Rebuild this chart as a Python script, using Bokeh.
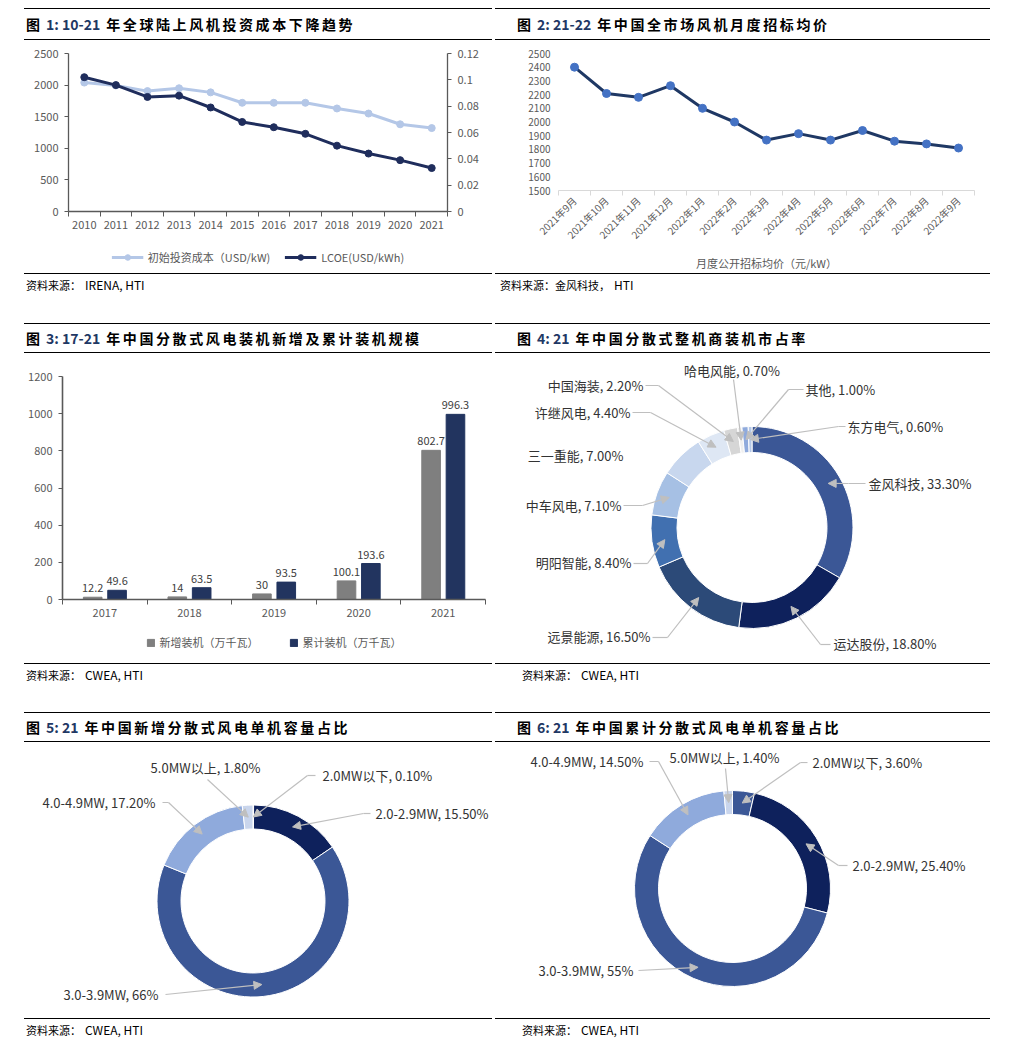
import math
from bokeh.plotting import figure
from bokeh.models import (Range1d, LinearAxis, FixedTicker, PrintfTickFormatter, Legend, LegendItem,
                          ColumnDataSource, LabelSet, Arrow, NormalHead, Div, Spacer)
from bokeh.layouts import row, column
from bokeh.embed import file_html
from bokeh.resources import INLINE
from bokeh.core.properties import value
from bokeh.transform import dodge

FONT = "Noto Sans CJK SC"
AX = "#595959"
ARROW = "#BFBFBF"
LBL = "#333333"
NAN = float("nan")

# ---------------- data ----------------
# Fig 1
years1 = [2010, 2011, 2012, 2013, 2014, 2015, 2016, 2017, 2018, 2019, 2020, 2021]
install_cost = [2040, 1995, 1905, 1950, 1885, 1720, 1720, 1720, 1630, 1550, 1380, 1320]
lcoe = [0.102, 0.096, 0.087, 0.088, 0.079, 0.068, 0.064, 0.059, 0.050, 0.044, 0.039, 0.033]
lcoe_ticks = [0, 0.02, 0.04, 0.06, 0.08, 0.1, 0.12]
cost_ticks = [0, 500, 1000, 1500, 2000, 2500]
series1 = ["初始投资成本（USD/kW)", "LCOE(USD/kWh)"]

# Fig 2
months2 = ["2021年9月", "2021年10月", "2021年11月", "2021年12月", "2022年1月", "2022年2月",
           "2022年3月", "2022年4月", "2022年5月", "2022年6月", "2022年7月", "2022年8月", "2022年9月"]
price2 = [2400, 2208, 2180, 2265, 2100, 2000, 1868, 1915, 1868, 1938, 1860, 1840, 1810]
price_ticks = [1500, 1600, 1700, 1800, 1900, 2000, 2100, 2200, 2300, 2400, 2500]

# Fig 3
years3 = [2017, 2018, 2019, 2020, 2021]
new_cap = [12.2, 14, 30, 100.1, 802.7]
cum_cap = [49.6, 63.5, 93.5, 193.6, 996.3]
cap_ticks = [0, 200, 400, 600, 800, 1000, 1200]
series3 = ["新增装机（万千瓦）", "累计装机（万千瓦）"]

# Fig 4
makers4 = ["金风科技", "运达股份", "远景能源", "明阳智能", "中车风电", "三一重能",
           "许继风电", "中国海装", "哈电风能", "其他", "东方电气"]
share4 = [33.3, 18.8, 16.5, 8.4, 7.1, 7.0, 4.4, 2.2, 0.7, 1.0, 0.6]
share4_text = ["33.30%", "18.80%", "16.50%", "8.40%", "7.10%", "7.00%", "4.40%",
               "2.20%", "0.70%", "1.00%", "0.60%"]
colors4 = ["#3B5796", "#0E215C", "#2C4A78", "#4170B0", "#A6C0E4", "#C8D7EE",
           "#DEE7F4", "#D6D6D6", "#EFEFEF", "#8FAADC", "#B4C7E7"]

# Fig 5 / Fig 6
classes = ["2.0MW以下", "2.0-2.9MW", "3.0-3.9MW", "4.0-4.9MW", "5.0MW以上"]
share5 = [0.1, 15.5, 66, 17.2, 1.8]
share5_text = ["0.10%", "15.50%", "66%", "17.20%", "1.80%"]
share6 = [3.6, 25.4, 55, 14.5, 1.4]
share6_text = ["3.60%", "25.40%", "55%", "14.50%", "1.40%"]
colors56 = ["#3B5796", "#0E215C", "#3B5796", "#8FAADC", "#C9D5EC"]

# callout layout (label anchor x, y, align, leader path) in px relative to donut centre
callouts4 = [
    (116.5, 44, "left", [(113.5, 44), (96.5, 44)]),
    (81.5, -116, "left", [(78.5, -117), (68.5, -117)]),
    (-101.5, -109, "right", [(-99.5, -110), (-84.5, -110)]),
    (-120.5, -35, "right", [(-118.5, -36), (-104.5, -36)]),
    (-130.5, 22, "right", [(-128.5, 22), (-109.5, 22)]),
    (-128.5, 72, "right", None),
    (-121.5, 115, "right", [(-119.5, 115), (-101.5, 115)]),
    (-108.5, 142, "right", [(-106.5, 142), (-93.5, 142)]),
    (-20, 157, "center", [(-18.5, 148)]),
    (53.5, 138, "left", [(51.5, 138), (36.5, 138)]),
    (95.5, 101, "left", [(93.5, 101), (86.5, 101)]),
]
callouts5 = [
    (69.5, 125.5, "left", [(62.5, 125.5), (54.5, 125.5)]),
    (122.5, 87.5, "left", [(117.5, 87.5), (110.5, 87.5)]),
    (-94.5, -93.5, "right", [(-87.5, -93.5)]),
    (-97.5, 98.5, "right", [(-90.5, 98.5), (-84.5, 98.5)]),
    (-47.5, 133.5, "center", [(-45.5, 121.5)]),
]
callouts6 = [
    (80, 126, "left", [(75, 126), (68, 126)]),
    (120, 23, "left", [(115, 23), (106, 23)]),
    (-99, -82, "right", [(-94, -82)]),
    (-89, 127, "right", [(-83, 127), (-74, 127)]),
    (-8, 131, "center", [(-7, 120)]),
]


# ---------------- helpers ----------------
def title_div(num, rest, width, height, pad):
    html = (f'<div style="box-sizing:border-box;width:{width}px;height:{height}px;'
            f'border-top:1.5px solid #000;border-bottom:1.5px solid #000;padding-left:{pad}px;'
            f'display:flex;align-items:center;white-space:nowrap;font-family:\'{FONT}\';'
            f'font-weight:bold;font-size:14px;color:#000;">'
            f'<span style="letter-spacing:3px">图</span>'
            f'<span style="color:#1F3864;margin-left:3px">{num}</span>'
            f'<span style="letter-spacing:2.6px;margin-left:6px">{rest}</span></div>')
    return Div(text=html, width=width, height=height, margin=0)


def src_div(cn, en, width, height, pad):
    html = (f'<div style="box-sizing:border-box;width:{width}px;height:{height}px;'
            f'border-top:1.5px solid #000;padding:2px 0 0 {pad}px;white-space:nowrap;'
            f'font-family:\'{FONT}\';color:#000;line-height:17px;">'
            f'<span style="font-size:11px">{cn}</span>'
            f'<span style="font-size:12px;margin-left:4px">{en}</span></div>')
    return Div(text=html, width=width, height=height, margin=0)


def style_axis(ax, size="11px"):
    ax.axis_line_color = AX
    ax.axis_line_width = 1.3
    ax.major_tick_line_color = AX
    ax.minor_tick_line_color = None
    ax.major_tick_in = 0
    ax.major_tick_out = 4
    ax.major_label_text_color = AX
    ax.major_label_text_font = FONT
    ax.major_label_text_font_size = size
    ax.major_label_standoff = 6


def blank_fig(width, height, xr, yr, **borders):
    p = figure(width=width, height=height, x_range=xr, y_range=yr, x_axis_type=None,
               y_axis_type=None, output_backend="svg", toolbar_location=None, **borders)
    p.grid.visible = False
    p.outline_line_color = None
    return p


def donut_fig(width, height, cx, cy):
    return blank_fig(width, height, Range1d(-cx, width - cx), Range1d(-(height - cy), cy),
                     min_border=0)


def legend_fig(width, height, left, right, top, bottom):
    return blank_fig(width, height, Range1d(0, 1), Range1d(0, 1), min_border_left=left,
                     min_border_right=right, min_border_top=top, min_border_bottom=bottom)


def donut(p, names, shares, texts, colors, r_in, r_out, specs):
    total = sum(shares)
    cum = 0.0
    starts, ends, mids = [], [], []
    for s in shares:
        a0 = cum / total * 2 * math.pi
        cum += s
        a1 = cum / total * 2 * math.pi
        starts.append(math.pi / 2 - a0)
        ends.append(math.pi / 2 - a1)
        mids.append((a0 + a1) / 2)
    src = ColumnDataSource(dict(start=starts, end=ends, color=colors))
    p.annular_wedge(x=0, y=0, inner_radius=r_in, outer_radius=r_out, start_angle="start",
                    end_angle="end", direction="clock", fill_color="color", line_color="white",
                    line_width=1, source=src)
    r_mid = (r_in + r_out) / 2
    for i, (tx, ty, align, path) in enumerate(specs):
        p.text(x=[tx], y=[ty], text=[f"{names[i]}, {texts[i]}"], text_align=align,
               text_baseline="middle", text_font=value(FONT), text_font_size="13px",
               text_color=LBL)
        if path:
            if len(path) > 1:
                p.line([q[0] for q in path], [q[1] for q in path], line_color=ARROW, line_width=1.2)
            sx, sy = path[-1]
            p.add_layout(Arrow(end=NormalHead(size=8, fill_color=ARROW, line_color=ARROW),
                               x_start=sx, y_start=sy,
                               x_end=r_mid * math.sin(mids[i]), y_end=r_mid * math.cos(mids[i]),
                               line_color=ARROW, line_width=1.2))


def legend_style(**kw):
    base = dict(orientation="horizontal", location="center", label_text_font=FONT,
                label_text_font_size="11px", label_text_color=AX, border_line_color=None,
                background_fill_alpha=0, padding=2, margin=0, label_height=14)
    base.update(kw)
    return base


LW, RW = 468, 495
LIGHT, DARK = "#B4C7E7", "#1F2D5C"
GRAYBAR, NAVYBAR = "#7F7F7F", "#22345F"

# ---------------- Fig 1 ----------------
p1 = figure(width=LW, height=205, x_range=Range1d(years1[0] - 0.5, years1[-1] + 0.5),
            y_range=Range1d(0, 2500), output_backend="svg", toolbar_location=None,
            min_border_left=44, min_border_right=45, min_border_top=13, min_border_bottom=34)
p1.extra_y_ranges = {"lcoe": Range1d(0, 0.12)}
p1.grid.visible = False
p1.outline_line_color = None
p1.line(years1, install_cost, line_color=LIGHT, line_width=3)
p1.scatter(years1, install_cost, size=7, fill_color=LIGHT, line_color=LIGHT)
p1.line(years1, lcoe, line_color=DARK, line_width=3, y_range_name="lcoe")
p1.scatter(years1, lcoe, size=7, fill_color=DARK, line_color=DARK, y_range_name="lcoe")
style_axis(p1.yaxis[0])
p1.yaxis[0].ticker = FixedTicker(ticks=cost_ticks)
rax = LinearAxis(y_range_name="lcoe", ticker=FixedTicker(ticks=lcoe_ticks),
                 formatter=PrintfTickFormatter(format="%g"))
style_axis(rax)
p1.add_layout(rax, "right")
xa = p1.xaxis[0]
style_axis(xa)
xa.ticker = FixedTicker(ticks=years1, minor_ticks=[y - 0.5 for y in years1] + [years1[-1] + 0.5])
xa.major_tick_line_color = None
xa.major_tick_out = 5
xa.minor_tick_line_color = AX
xa.minor_tick_in = 0
xa.minor_tick_out = 5
xa.major_label_standoff = 4

# legend strip for Fig 1 (series keys only: NaN placeholders, nothing is plotted)
lg1 = legend_fig(LW, 28, 44, 45, 0, 4)
kl1 = lg1.line(x=[NAN], y=[NAN], line_color=LIGHT, line_width=3)
ks1 = lg1.scatter(x=[NAN], y=[NAN], size=7, fill_color=LIGHT, line_color=LIGHT)
kl2 = lg1.line(x=[NAN], y=[NAN], line_color=DARK, line_width=3)
ks2 = lg1.scatter(x=[NAN], y=[NAN], size=7, fill_color=DARK, line_color=DARK)
lg1.add_layout(Legend(items=[LegendItem(label=series1[0], renderers=[kl1, ks1]),
                             LegendItem(label=series1[1], renderers=[kl2, ks2])],
                      **legend_style(glyph_width=32, glyph_height=14, spacing=14)), "center")

# ---------------- Fig 2 ----------------
x2 = list(range(len(months2)))
p2 = figure(width=RW, height=233, x_range=Range1d(-0.5, len(months2) - 0.5),
            y_range=Range1d(1500, 2500), output_backend="svg", toolbar_location=None,
            min_border_left=63, min_border_right=16, min_border_top=13, min_border_bottom=80)
p2.grid.visible = False
p2.outline_line_color = None
p2.line(x2, price2, line_color="#1F3864", line_width=3)
p2.scatter(x2, price2, size=8, fill_color="#4472C4", line_color="#4472C4")
ya2 = p2.yaxis[0]
style_axis(ya2, "10px")
ya2.ticker = FixedTicker(ticks=price_ticks)
ya2.axis_line_color = None
ya2.major_tick_line_color = None
ya2.major_tick_out = 0
ya2.major_label_standoff = 8
xa2 = p2.xaxis[0]
style_axis(xa2, "10px")
xa2.axis_line_color = "#D9D9D9"
xa2.axis_line_width = 1
xa2.ticker = FixedTicker(ticks=x2, minor_ticks=[i - 0.5 for i in range(len(months2) + 1)])
xa2.major_label_overrides = {i: m for i, m in enumerate(months2)}
xa2.major_label_orientation = math.pi / 4
xa2.major_tick_line_color = None
xa2.major_tick_out = 4
xa2.minor_tick_line_color = "#D9D9D9"
xa2.minor_tick_in = 0
xa2.minor_tick_out = 5
xa2.major_label_standoff = 3
xa2.axis_label = "月度公开招标均价（元/kW）"
xa2.axis_label_text_font = FONT
xa2.axis_label_text_font_style = "normal"
xa2.axis_label_text_font_size = "11px"
xa2.axis_label_text_color = AX
xa2.axis_label_standoff = 5

# ---------------- Fig 3 ----------------
src3 = ColumnDataSource(dict(x=years3, new=new_cap, cum=cum_cap,
                             new_t=[f"{v:g}" for v in new_cap], cum_t=[f"{v:g}" for v in cum_cap]))
p3 = figure(width=LW, height=275, x_range=Range1d(years3[0] - 0.5, years3[-1] + 0.5),
            y_range=Range1d(0, 1200), output_backend="svg", toolbar_location=None,
            min_border_left=38, min_border_right=7, min_border_top=23, min_border_bottom=29)
p3.grid.visible = False
p3.outline_line_color = None
p3.vbar(x=dodge("x", -0.143), top="new", width=0.22, fill_color=GRAYBAR,
        line_color=GRAYBAR, source=src3)
p3.vbar(x=dodge("x", 0.145), top="cum", width=0.22, fill_color=NAVYBAR,
        line_color=NAVYBAR, source=src3)
for fld, off in (("new", -0.143), ("cum", 0.145)):
    p3.add_layout(LabelSet(x=dodge("x", off), y=fld, text=fld + "_t", source=src3,
                           text_align="center", text_baseline="bottom", y_offset=5,
                           text_font=value(FONT), text_font_size="11px", text_color="#404040"))
ya3 = p3.yaxis[0]
style_axis(ya3)
ya3.ticker = FixedTicker(ticks=cap_ticks)
ya3.axis_line_width = 1.6
xa3 = p3.xaxis[0]
style_axis(xa3)
xa3.axis_line_width = 1.6
xa3.ticker = FixedTicker(ticks=years3, minor_ticks=[y - 0.5 for y in years3] + [years3[-1] + 0.5])
xa3.major_tick_line_color = None
xa3.major_tick_out = 5
xa3.minor_tick_line_color = AX
xa3.minor_tick_in = 0
xa3.minor_tick_out = 5
xa3.major_label_standoff = 4

lg3 = legend_fig(LW, 35, 38, 7, 0, 7)
kb1 = lg3.vbar(x=[NAN], top=[NAN], width=0.2, fill_color=GRAYBAR, line_color=GRAYBAR)
kb2 = lg3.vbar(x=[NAN], top=[NAN], width=0.2, fill_color=NAVYBAR, line_color=NAVYBAR)
lg3.add_layout(Legend(items=[LegendItem(label=series3[0], renderers=[kb1]),
                             LegendItem(label=series3[1], renderers=[kb2])],
                      **legend_style(glyph_width=9, glyph_height=9, spacing=30)), "center")

# ---------------- Fig 4 ----------------
p4 = donut_fig(RW, 310, 256.5, 174)
donut(p4, makers4, share4, share4_text, colors4, 75, 101, callouts4)

# ---------------- Fig 5 ----------------
p5 = donut_fig(LW, 276, 228.5, 158.5)
donut(p5, classes, share5, share5_text, colors56, 72, 96, callouts5)

# ---------------- Fig 6 ----------------
p6 = donut_fig(RW, 276, 237, 146)
donut(p6, classes, share6, share6_text, colors56, 74, 98, callouts6)

# ---------------- layout ----------------
SRC = "资料来源："
c1 = column(title_div("1: 10-21", "年全球陆上风机投资成本下降趋势", LW, 32, 2), p1, lg1,
            src_div(SRC, "IRENA, HTI", LW, 50, 2))
c2 = column(title_div("2: 21-22", "年中国全市场风机月度招标均价", RW, 32, 22), p2,
            src_div(SRC + "金风科技，", "HTI", RW, 50, 5))
c3 = column(title_div("3: 17-21", "年中国分散式风电装机新增及累计装机规模", LW, 30, 2), p3, lg3,
            src_div(SRC, "CWEA, HTI", LW, 49, 2))
c4 = column(title_div("4: 21", "年中国分散式整机商装机市占率", RW, 30, 22), p4,
            src_div(SRC, "CWEA, HTI", RW, 49, 27))
c5 = column(title_div("5: 21", "年中国新增分散式风电单机容量占比", LW, 30, 2), p5,
            src_div(SRC, "CWEA, HTI", LW, 27, 2))
c6 = column(title_div("6: 21", "年中国累计分散式风电单机容量占比", RW, 30, 22), p6,
            src_div(SRC, "CWEA, HTI", RW, 27, 27))

layout = column(
    Spacer(width=10, height=8),
    row(Spacer(width=24, height=315), c1, Spacer(width=3, height=315), c2),
    row(Spacer(width=24, height=389), c3, Spacer(width=3, height=389), c4),
    row(Spacer(width=24, height=333), c5, Spacer(width=3, height=333), c6),
)

open("out.html", "w").write(file_html(layout, INLINE))
